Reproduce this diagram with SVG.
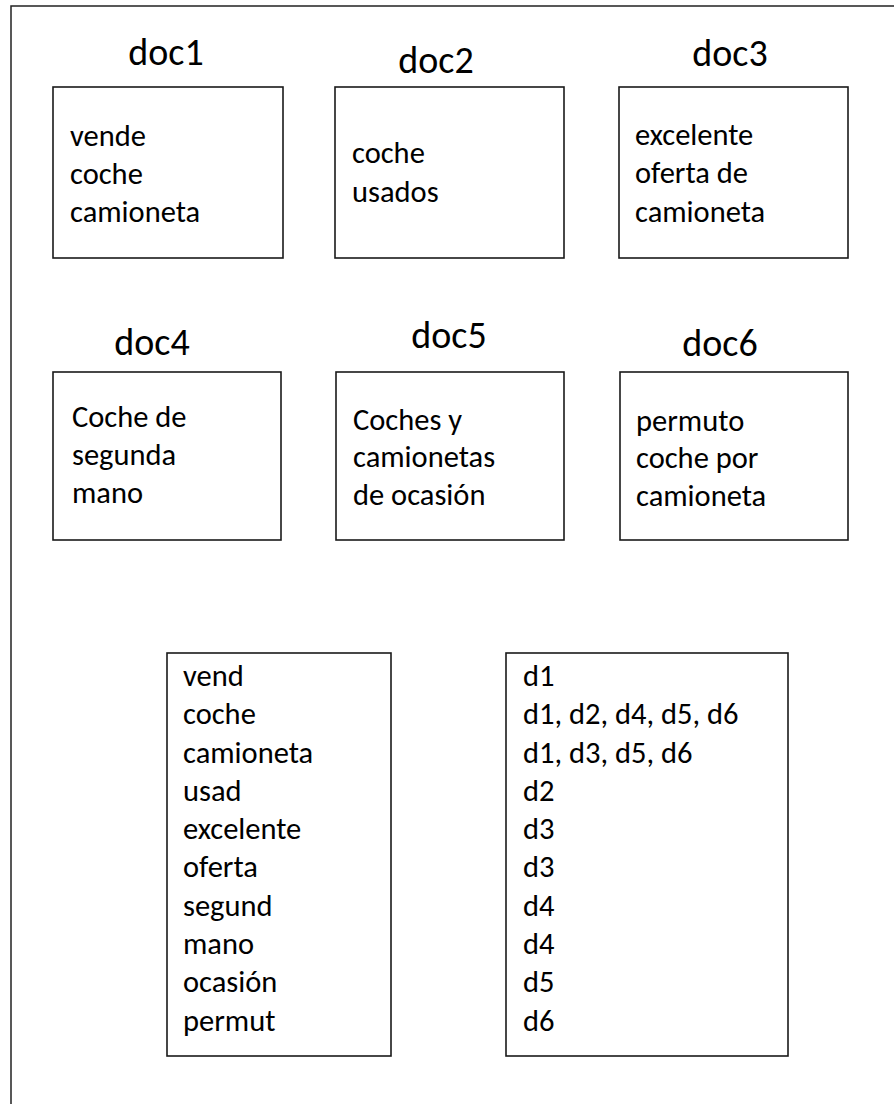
<svg xmlns="http://www.w3.org/2000/svg" width="894" height="1104" viewBox="0 0 894 1104">
<style>
  .frame{fill:none;stroke:#222;stroke-width:1.5}
  .box{fill:#fff;stroke:#1a1a1a;stroke-width:1.6}
  .title{font-family:Carlito,Calibri,Lato,"Liberation Sans",sans-serif;font-size:38px;fill:#000;text-anchor:middle}
  .body{font-family:Carlito,Calibri,Lato,"Liberation Sans",sans-serif;font-size:30.5px;fill:#000}
</style>
<rect width="894" height="1104" fill="#fff"/>
<path class="frame" d="M11,1104 V6 H894"/>

<g id="doc1">
  <text class="title" x="166" y="65">doc1</text>
  <rect class="box" x="53" y="87" width="230" height="171"/>
  <text class="body" x="70" y="146">vende</text>
  <text class="body" x="70" y="184">coche</text>
  <text class="body" x="70" y="222">camioneta</text>
</g>
<g id="doc2">
  <text class="title" x="436" y="73">doc2</text>
  <rect class="box" x="335" y="87" width="229" height="171"/>
  <text class="body" x="352" y="163">coche</text>
  <text class="body" x="352" y="202">usados</text>
</g>
<g id="doc3">
  <text class="title" x="730" y="66">doc3</text>
  <rect class="box" x="619" y="87" width="229" height="171"/>
  <text class="body" x="635" y="145">excelente</text>
  <text class="body" x="635" y="183">oferta de</text>
  <text class="body" x="635" y="222">camioneta</text>
</g>
<g id="doc4">
  <text class="title" x="152" y="355">doc4</text>
  <rect class="box" x="53" y="372" width="228" height="168"/>
  <text class="body" x="72" y="427">Coche de</text>
  <text class="body" x="72" y="465">segunda</text>
  <text class="body" x="72" y="503">mano</text>
</g>
<g id="doc5">
  <text class="title" x="449" y="348">doc5</text>
  <rect class="box" x="336" y="372" width="228" height="168"/>
  <text class="body" x="353" y="430">Coches y</text>
  <text class="body" x="353" y="467">camionetas</text>
  <text class="body" x="353" y="505">de ocasión</text>
</g>
<g id="doc6">
  <text class="title" x="720" y="356">doc6</text>
  <rect class="box" x="620" y="372" width="228" height="168"/>
  <text class="body" x="636" y="431">permuto</text>
  <text class="body" x="636" y="468">coche por</text>
  <text class="body" x="636" y="506">camioneta</text>
</g>
<g id="terms">
  <rect class="box" x="167" y="653" width="224" height="403"/>
  <text class="body" x="183" y="686">vend</text>
  <text class="body" x="183" y="724">coche</text>
  <text class="body" x="183" y="763">camioneta</text>
  <text class="body" x="183" y="801">usad</text>
  <text class="body" x="183" y="839">excelente</text>
  <text class="body" x="183" y="877">oferta</text>
  <text class="body" x="183" y="916">segund</text>
  <text class="body" x="183" y="954">mano</text>
  <text class="body" x="183" y="992">ocasión</text>
  <text class="body" x="183" y="1031">permut</text>
</g>
<g id="postings">
  <rect class="box" x="506" y="653" width="282" height="403"/>
  <text class="body" x="523" y="686">d1</text>
  <text class="body" x="523" y="724">d1, d2, d4, d5, d6</text>
  <text class="body" x="523" y="763">d1, d3, d5, d6</text>
  <text class="body" x="523" y="801">d2</text>
  <text class="body" x="523" y="839">d3</text>
  <text class="body" x="523" y="877">d3</text>
  <text class="body" x="523" y="916">d4</text>
  <text class="body" x="523" y="954">d4</text>
  <text class="body" x="523" y="992">d5</text>
  <text class="body" x="523" y="1031">d6</text>
</g>
<g id="connectors"/>
</svg>
